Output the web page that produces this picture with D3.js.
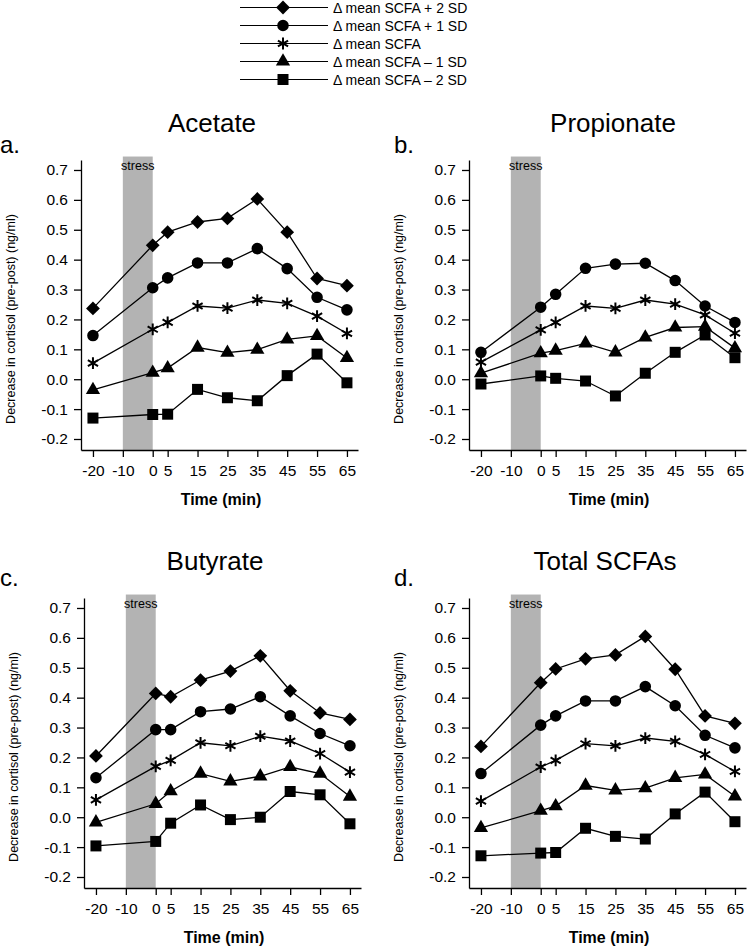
<!DOCTYPE html>
<html>
<head>
<meta charset="utf-8">
<script src="https://cdn.jsdelivr.net/npm/d3@7"></script>
<style>
  body { margin: 0; background: #fff; }
  svg { font-family: "Liberation Sans", Arial, sans-serif; }
</style>
</head>
<body>
<script>
// time points (min) and axis ticks
const times = [-20, 0, 5, 15, 25, 35, 45, 55, 65];
const xTicks = [-20, -10, 0, 5, 15, 25, 35, 45, 55, 65];
const yTicks = [-0.2, -0.1, 0.0, 0.1, 0.2, 0.3, 0.4, 0.5, 0.6, 0.7];
const stressWindow = [-10, 0];

const seriesNames = [
  "\u0394 mean SCFA + 2 SD",
  "\u0394 mean SCFA + 1 SD",
  "\u0394 mean SCFA",
  "\u0394 mean SCFA \u2013 1 SD",
  "\u0394 mean SCFA \u2013 2 SD"
];
const panelTitles = ["Acetate", "Propionate", "Butyrate", "Total SCFAs"];
const panelLetters = ["a.", "b.", "c.", "d."];

// Acetate
const acetatePlus2 = [0.237, 0.448, 0.492, 0.526, 0.538, 0.603, 0.492, 0.337, 0.313];
const acetatePlus1 = [0.146, 0.306, 0.339, 0.389, 0.389, 0.437, 0.370, 0.274, 0.232];
const acetateMean = [0.054, 0.167, 0.190, 0.245, 0.238, 0.265, 0.254, 0.211, 0.153];
const acetateMinus1 = [-0.036, 0.022, 0.037, 0.106, 0.089, 0.099, 0.133, 0.145, 0.071];
const acetateMinus2 = [-0.130, -0.118, -0.117, -0.034, -0.062, -0.072, 0.012, 0.084, -0.012];

// Propionate (no +2 SD line drawn)
const propionatePlus2 = null;
const propionatePlus1 = [0.090, 0.241, 0.284, 0.371, 0.385, 0.388, 0.330, 0.245, 0.190];
const propionateMean = [0.057, 0.165, 0.190, 0.245, 0.237, 0.265, 0.251, 0.215, 0.154];
const propionateMinus1 = [0.020, 0.087, 0.096, 0.120, 0.090, 0.140, 0.173, 0.176, 0.104];
const propionateMinus2 = [-0.016, 0.011, 0.003, -0.006, -0.056, 0.020, 0.090, 0.148, 0.072];

// Butyrate
const butyratePlus2 = [0.205, 0.414, 0.403, 0.459, 0.489, 0.540, 0.423, 0.349, 0.327];
const butyratePlus1 = [0.132, 0.293, 0.293, 0.353, 0.362, 0.403, 0.339, 0.280, 0.239];
const butyrateMean = [0.058, 0.170, 0.190, 0.249, 0.239, 0.271, 0.255, 0.213, 0.151];
const butyrateMinus1 = [-0.017, 0.045, 0.087, 0.146, 0.120, 0.137, 0.168, 0.146, 0.069];
const butyrateMinus2 = [-0.096, -0.081, -0.020, 0.041, -0.008, 0.000, 0.086, 0.075, -0.022];

// Total SCFAs
const totalPlus2 = [0.237, 0.450, 0.496, 0.530, 0.543, 0.605, 0.495, 0.339, 0.314];
const totalPlus1 = [0.146, 0.308, 0.339, 0.389, 0.389, 0.437, 0.373, 0.274, 0.232];
const totalMean = [0.054, 0.168, 0.190, 0.246, 0.239, 0.265, 0.254, 0.210, 0.153];
const totalMinus1 = [-0.036, 0.022, 0.037, 0.106, 0.090, 0.097, 0.132, 0.143, 0.070];
const totalMinus2 = [-0.129, -0.120, -0.118, -0.037, -0.064, -0.073, 0.011, 0.084, -0.015];

const panelSeries = [
  [acetatePlus2, acetatePlus1, acetateMean, acetateMinus1, acetateMinus2],
  [propionatePlus2, propionatePlus1, propionateMean, propionateMinus1, propionateMinus2],
  [butyratePlus2, butyratePlus1, butyrateMean, butyrateMinus1, butyrateMinus2],
  [totalPlus2, totalPlus1, totalMean, totalMinus1, totalMinus2]
];

// layout of the four panels (axis origin x, x-axis baseline y, title centre)
const layout = [
  { ax: 81, bottom: 450, titleX: 212, letterX: 0 },
  { ax: 469, bottom: 450, titleX: 613, letterX: 394 },
  { ax: 84, bottom: 888, titleX: 215, letterX: 0 },
  { ax: 469, bottom: 888, titleX: 605, letterX: 394 }
];

const W = 747, H = 950;
const svg = d3.select("body").append("svg").attr("width", W).attr("height", H);

// six-armed asterisk marker
const asterisk = {
  draw(ctx, size) {
    const r = Math.sqrt(size) * 0.62;
    const t = r / 2, u = t * Math.sqrt(3);
    ctx.moveTo(0, r); ctx.lineTo(0, -r);
    ctx.moveTo(-u, -t); ctx.lineTo(u, t);
    ctx.moveTo(-u, t); ctx.lineTo(u, -t);
  }
};

const markers = [
  { type: d3.symbolSquare, size: 95, rotate: 45, stroke: false },
  { type: d3.symbolCircle, size: 105, rotate: 0, stroke: false },
  { type: asterisk, size: 90, rotate: 0, stroke: true },
  { type: d3.symbolTriangle, size: 88, rotate: 0, stroke: false },
  { type: d3.symbolSquare, size: 121, rotate: 0, stroke: false }
];

function drawMarker(g, m, x, y) {
  g.append("path")
    .attr("d", d3.symbol().type(m.type).size(m.size)())
    .attr("transform", `translate(${x},${y}) rotate(${m.rotate})`)
    .attr("fill", m.stroke ? "none" : "#000")
    .attr("stroke", m.stroke ? "#000" : "none")
    .attr("stroke-width", m.stroke ? 2 : 0);
}

// legend
const legend = svg.append("g");
seriesNames.forEach((name, i) => {
  const ly = 7.5 + i * 18;
  legend.append("line").attr("x1", 240).attr("x2", 328).attr("y1", ly).attr("y2", ly)
    .attr("stroke", "#000").attr("stroke-width", 1.2);
  drawMarker(legend, markers[i], 283, ly);
  legend.append("text").attr("x", 333).attr("y", ly + 5)
    .attr("font-size", 14).text(name);
});

panelSeries.forEach((series, p) => {
  const L = layout[p];
  const g = svg.append("g");

  const x = d3.scaleLinear().domain([-24, 68.7]).range([L.ax, L.ax + 277]);
  const y = d3.scaleLinear().domain([-0.2368, 0.7334]).range([L.bottom, L.bottom - 290]);

  // stress period
  g.append("rect")
    .attr("x", x(stressWindow[0]))
    .attr("width", x(stressWindow[1]) - x(stressWindow[0]))
    .attr("y", y(0.745))
    .attr("height", L.bottom - y(0.745))
    .attr("fill", "#b3b3b3");
  g.append("text")
    .attr("x", (x(stressWindow[0]) + x(stressWindow[1])) / 2)
    .attr("y", y(0.745) + 13)
    .attr("text-anchor", "middle")
    .attr("font-size", 12.5)
    .text("stress");

  // axes
  const yAxis = d3.axisLeft(y).tickValues(yTicks).tickSize(7).tickPadding(6).tickSizeOuter(0)
    .tickFormat((d) => d.toFixed(1));
  const xAxis = d3.axisBottom(x).tickValues(xTicks).tickSize(7).tickPadding(8).tickSizeOuter(0)
    .tickFormat((d) => String(d));

  const ya = g.append("g").attr("transform", `translate(${L.ax},0)`).call(yAxis);
  const xa = g.append("g").attr("transform", `translate(0,${L.bottom})`).call(xAxis);
  [ya, xa].forEach((a) => {
    a.selectAll("path, line").attr("stroke", "#000").attr("stroke-width", 1.3);
    a.selectAll("text").attr("font-size", 15.5).attr("fill", "#000")
      .style("font-family", '"Liberation Sans", Arial, sans-serif');
  });

  // lines and markers
  const line = d3.line().x((d, i) => x(times[i])).y((d) => y(d));
  series.forEach((vals, s) => {
    if (!vals) return;
    g.append("path").datum(vals).attr("d", line)
      .attr("fill", "none").attr("stroke", "#000").attr("stroke-width", 1.3);
    vals.forEach((v, i) => drawMarker(g, markers[s], x(times[i]), y(v)));
  });

  // titles and labels
  g.append("text").attr("x", L.titleX).attr("y", L.bottom - 318)
    .attr("text-anchor", "middle").attr("font-size", 26).text(panelTitles[p]);
  g.append("text").attr("x", L.letterX).attr("y", L.bottom - (p < 2 ? 297 : 302))
    .attr("font-size", 24).text(panelLetters[p]);
  g.append("text").attr("x", L.ax + 140).attr("y", L.bottom + 55)
    .attr("text-anchor", "middle").attr("font-size", 16).attr("font-weight", "bold")
    .text("Time (min)");
  g.append("text")
    .attr("transform", `translate(${L.ax - 66},${L.bottom - 131}) rotate(-90)`)
    .attr("text-anchor", "middle").attr("font-size", 12.5)
    .text("Decrease in cortisol (pre-post) (ng/ml)");
});
</script>
</body>
</html>
